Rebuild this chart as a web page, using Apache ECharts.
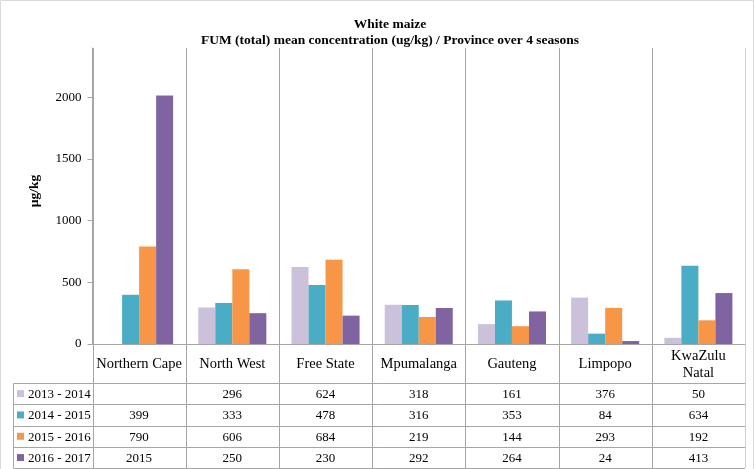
<!DOCTYPE html>
<html><head><meta charset="utf-8">
<script src="https://cdn.jsdelivr.net/npm/echarts@6/dist/echarts.min.js"></script>
<style>html,body{margin:0;padding:0;background:#fff}#c{width:755px;height:469px}</style>
</head>
<body><div id="c"></div>
<script>
const categories = ['Northern Cape','North West','Free State','Mpumalanga','Gauteng','Limpopo','KwaZulu Natal'];
const categoryLabels = ['Northern Cape','North West','Free State','Mpumalanga','Gauteng','Limpopo','KwaZulu\nNatal'];
const seasons = ['2013 - 2014','2014 - 2015','2015 - 2016','2016 - 2017'];
const s2013 = [null,296,624,318,161,376,50];
const s2014 = [399,333,478,316,353,84,634];
const s2015 = [790,606,684,219,144,293,192];
const s2016 = [2015,250,230,292,264,24,413];
const yTicks = [0,500,1000,1500,2000];
const seriesValues = [s2013,s2014,s2015,s2016];
const colors = ['#CCC1DA','#4BACC6','#F79646','#8064A2'];
const FONT = "'Liberation Serif', serif";
const YMAX = 2400;

const chart = echarts.init(document.getElementById('c'), null, {renderer:'canvas'});
chart.setOption({
  animation:false,
  title:{
    text:'White maize\nFUM (total) mean concentration (ug/kg) / Province over 4 seasons',
    left:385, top:12, textAlign:'center',
    textStyle:{fontFamily:FONT,fontWeight:'bold',fontSize:13.5,lineHeight:16,color:'#000'}
  },
  grid:{left:92.5, right:10, top:48, bottom:125},
  xAxis:{
    type:'category', data:categories,
    axisLabel:{show:false}, axisTick:{show:false},
    axisLine:{lineStyle:{color:'#a6a6a6'}}, splitLine:{show:false}
  },
  yAxis:{
    type:'value', min:0, max:YMAX, interval:500,
    name:'µg/kg', nameLocation:'middle', nameGap:51, nameRotate:90,
    nameTextStyle:{fontFamily:FONT,fontWeight:'bold',fontSize:13.5,color:'#000',padding:[0,0,0,10]},
    axisLine:{show:true,lineStyle:{color:'#a6a6a6'}},
    axisTick:{show:true,length:5,customValues:yTicks,lineStyle:{color:'#a6a6a6'}},
    axisLabel:{customValues:yTicks,margin:11,fontFamily:FONT,fontSize:13,color:'#000',formatter:v=>String(v)},
    splitLine:{show:false}
  },
  series: seasons.map((s,i)=>({
    name:s, type:'bar', data:seriesValues[i],
    itemStyle:{color:colors[i]}, barGap:'0%', barCategoryGap:'27%'
  }))
});

function drawTable(){
  const centers = categories.map((c,i)=>chart.convertToPixel({xAxisIndex:0}, i));
  const band = centers[1]-centers[0];
  const left = centers[0]-band/2;
  const axisY = chart.convertToPixel({yAxisIndex:0}, 0);
  const topY = chart.convertToPixel({yAxisIndex:0}, YMAX);
  const headerH = 39, rowH = 21.3, legendLeft = 12.5;
  const bottom = axisY + headerH + seasons.length*rowH;
  const right = left + band*categories.length;
  const els = [];
  const line = (x1,y1,x2,y2,c)=>els.push({type:'line',silent:true,shape:{x1,y1,x2,y2},style:{stroke:c,lineWidth:1}});
  const txt = (x,y,t,size,align)=>els.push({type:'text',silent:true,x,y,style:{text:t,fill:'#000',font:size+"px 'Liberation Serif', serif",align:align||'center',verticalAlign:'middle',lineHeight:17}});
  for(let i=0;i<=categories.length;i++){
    const x = Math.round(left+i*band)+0.5;
    line(x, topY, x, bottom, i===categories.length?'#d0d0d0':'#a6a6a6');
  }
  const lx = Math.round(legendLeft)+0.5;
  const firstRow = Math.round(axisY+headerH)+0.5;
  line(lx, firstRow, lx, bottom, '#a6a6a6');
  for(let r=0;r<=seasons.length;r++){
    const y = Math.round(axisY+headerH+r*rowH)+0.5;
    line(lx, y, right, y, '#a6a6a6');
  }
  categoryLabels.forEach((l,i)=>txt(centers[i], axisY+headerH/2+1, l, 14.5));
  seasons.forEach((s,r)=>{
    const cy = axisY+headerH+r*rowH+rowH/2+1;
    els.push({type:'rect',silent:true,shape:{x:17,y:cy-4.5,width:7,height:7},style:{fill:colors[r]}});
    txt(28, cy, s, 13, 'left');
    seriesValues[r].forEach((v,i)=>{ if(v!=null) txt(centers[i], cy, String(v), 13); });
  });
  els.push({type:'rect',silent:true,shape:{x:0.5,y:0.5,width:753,height:480},style:{fill:null,stroke:'#d9d9d9',lineWidth:1}});
  chart.setOption({graphic:els});
}
drawTable();
</script>
</body></html>
